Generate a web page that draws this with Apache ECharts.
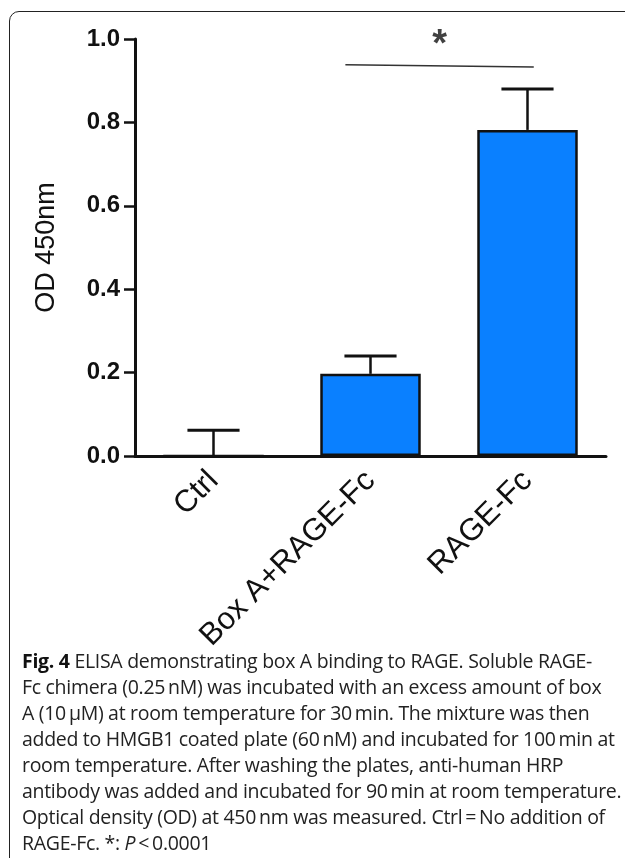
<!DOCTYPE html>
<html>
<head>
<meta charset="utf-8">
<script src="https://cdn.jsdelivr.net/npm/echarts@6/dist/echarts.min.js"></script>
<style>
  html, body { margin: 0; padding: 0; background: #fff; }
  body { width: 625px; height: 858px; position: relative; overflow: hidden; }
  #frame {
    position: absolute; left: 9px; top: 11px; width: 660px; height: 900px;
    border: 1.5px solid #222; border-radius: 10px;
  }
  #chart { position: absolute; left: 0; top: 0; width: 625px; height: 858px; }
  #caption {
    position: absolute; left: 22px; top: 648px; z-index: 2;
    font-family: 'Open Sans', 'Noto Sans', sans-serif; font-size: 19.5px;
    line-height: 26px; color: #222; white-space: nowrap; letter-spacing: -0.3px;
  }
  #caption b { color: #111; }
</style>
</head>
<body>
<div id="frame"></div>
<div id="chart"></div>
<div id="caption">
  <div><b>Fig. 4</b> ELISA demonstrating box A binding to RAGE. Soluble RAGE-</div>
  <div>Fc chimera (0.25&#8201;nM) was incubated with an excess amount of box</div>
  <div>A (10&#8201;µM) at room temperature for 30&#8201;min. The mixture was then</div>
  <div>added to HMGB1 coated plate (60&#8201;nM) and incubated for 100&#8201;min at</div>
  <div>room temperature. After washing the plates, anti-human HRP</div>
  <div>antibody was added and incubated for 90&#8201;min at room temperature.</div>
  <div>Optical density (OD) at 450&#8201;nm was measured. Ctrl&#8201;=&#8201;No addition of</div>
  <div>RAGE-Fc. *: <i>P</i>&#8201;&lt;&#8201;0.0001</div>
</div>
<script>
const categories = ['Ctrl', 'Box A+RAGE-Fc', 'RAGE-Fc']
const means = [0, 0.197, 0.782]
const errors = [0.062, 0.043, 0.098]

// significance bracket between Box A+RAGE-Fc and RAGE-Fc (x in category units)
const sigLine = [[0.84, 0.938], [2.04, 0.933]]
const sigMark = [[1.44, 0.985]]
const sigText = '*'

const font = "'Liberation Sans', Arial, Helvetica, sans-serif"
const ink = '#111'

function renderErrorBar (params, api) {
  const low = api.coord([api.value(0), api.value(1)])
  const high = api.coord([api.value(0), api.value(2)])
  const half = api.size([1, 0])[0] * 0.166
  const style = { stroke: ink, lineWidth: 2.5 }
  return {
    type: 'group',
    children: [
      { type: 'line', shape: { x1: low[0], y1: low[1], x2: high[0], y2: high[1] }, style },
      { type: 'line', shape: { x1: high[0] - half, y1: high[1], x2: high[0] + half, y2: high[1] }, style: { stroke: ink, lineWidth: 3 } }
    ]
  }
}

const errorData = categories.map((c, i) => [i, means[i], means[i] + errors[i]])

const chart = echarts.init(document.getElementById('chart'), null, { renderer: 'canvas' })

chart.setOption({
  animation: false,
  grid: { left: 135, right: 19, top: 39, bottom: 402, outerBoundsMode: 'none' },
  xAxis: [
    {
      type: 'category',
      data: categories,
      axisLine: { lineStyle: { color: ink, width: 3 } },
      axisTick: { alignWithLabel: true, length: 10, lineStyle: { color: ink, width: 2.5 } },
      axisLabel: { rotate: 45, margin: 20, fontSize: 31, fontFamily: font, color: ink }
    },
    { type: 'value', min: -0.5, max: 2.5, show: false }
  ],
  yAxis: {
    type: 'value',
    min: 0,
    max: 1,
    interval: 0.2,
    name: 'OD 450nm',
    nameLocation: 'middle',
    nameRotate: 90,
    nameGap: 75,
    nameTextStyle: { fontSize: 27, fontFamily: font, color: ink },
    splitLine: { show: false },
    axisLine: { show: true, onZero: false, lineStyle: { color: ink, width: 3 } },
    axisTick: { show: true, length: 11, lineStyle: { color: ink, width: 2.5 } },
    axisLabel: {
      margin: 15,
      fontSize: 24,
      fontWeight: 'bold',
      fontFamily: font,
      color: ink,
      formatter: v => v.toFixed(1)
    }
  },
  series: [
    {
      type: 'bar',
      data: means,
      barWidth: '64%',
      itemStyle: { color: '#0a80ff', borderColor: ink, borderWidth: 2.5 }
    },
    {
      type: 'custom',
      data: errorData,
      encode: { x: 0, y: [1, 2] },
      renderItem: renderErrorBar,
      z: 3
    },
    {
      type: 'line',
      xAxisIndex: 1,
      data: sigLine,
      symbol: 'none',
      lineStyle: { color: '#333', width: 1.5 }
    },
    {
      type: 'scatter',
      xAxisIndex: 1,
      data: sigMark,
      symbolSize: 0,
      label: {
        show: true,
        position: 'inside',
        formatter: sigText,
        fontSize: 38,
        fontWeight: 'bold',
        fontFamily: font,
        color: ink
      }
    }
  ]
})
</script>
</body>
</html>
